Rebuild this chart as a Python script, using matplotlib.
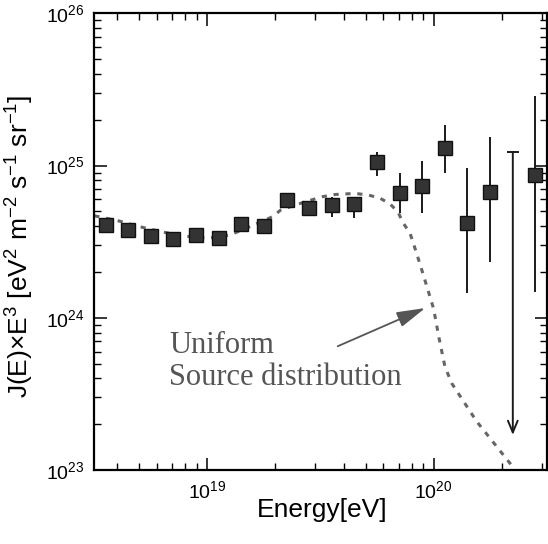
# -*- coding: utf8
'''
Energy spectrum J(E) x E^3 with the expected curve for a uniform
source distribution (dashed line).
'''
from matplotlib import pyplot as plt
from matplotlib.ticker import LogLocator, NullFormatter

import numpy as np

# measured points: energy [eV], flux x E^3 in units of 1e24 eV^2 m^-2 s^-1 sr^-1
energy = [3.55e18, 4.47e18, 5.62e18, 7.08e18, 8.91e18, 1.12e19, 1.41e19,
          1.78e19, 2.24e19, 2.82e19, 3.55e19, 4.47e19, 5.62e19, 7.08e19,
          8.91e19, 1.12e20, 1.41e20, 1.78e20, 2.82e20]
flux = [4.07, 3.80, 3.47, 3.31, 3.51, 3.35, 4.14, 3.98, 5.92, 5.25, 5.52,
        5.62, 10.6, 6.61, 7.35, 13.0, 4.20, 6.70, 8.61]
flux_hi = [4.07, 3.80, 3.47, 3.31, 3.51, 3.35, 4.14, 3.98, 5.92, 5.75, 6.24,
           6.24, 12.3, 8.97, 10.7, 18.5, 9.59, 15.3, 28.6]
flux_lo = [4.07, 3.80, 3.47, 3.31, 3.51, 3.35, 4.14, 3.98, 5.92, 4.79, 4.61,
           4.50, 8.53, 4.90, 4.85, 8.89, 1.46, 2.33, 1.48]

# upper limit
ul_energy = 2.24e20
ul_top = 12.3
ul_bottom = 0.17

# uniform source distribution curve (log10 E, log10 flux)
curve_loge = [18.50, 18.606, 18.702, 18.797, 18.899, 19.00, 19.097, 19.17,
              19.288, 19.324, 19.42, 19.507, 19.566, 19.654, 19.713, 19.764,
              19.808, 19.842, 19.867, 19.896, 19.925, 19.955, 19.984, 20.00,
              20.025, 20.05, 20.08, 20.19, 20.34, 20.37]
curve_logj = [24.67, 24.637, 24.598, 24.565, 24.537, 24.522, 24.543, 24.587,
              24.664, 24.708, 24.756, 24.795, 24.81, 24.817, 24.806, 24.785,
              24.747, 24.696, 24.62, 24.555, 24.423, 24.28, 24.138, 24.06,
              23.86, 23.68, 23.57, 23.32, 23.04, 22.98]


def main():
    plt.rcParams['font.family'] = ['Liberation Sans', 'DejaVu Sans']
    plt.rcParams['mathtext.fontset'] = 'custom'
    plt.rcParams['mathtext.rm'] = 'Liberation Sans'
    plt.rcParams['mathtext.it'] = 'Liberation Sans:italic'

    fig = plt.figure(figsize=(5.48, 5.44), dpi=100)
    ax = fig.add_axes([0.1721, 0.1360, 0.8255, 0.8395])
    ax.set_xscale('log')
    ax.set_yscale('log')

    scale = 1e24
    y = np.array(flux) * scale
    yerr = [y - np.array(flux_lo) * scale, np.array(flux_hi) * scale - y]

    ax.plot(10 ** np.array(curve_loge), 10 ** np.array(curve_logj),
            color='#666666', lw=2.2, linestyle=(0, (1.7, 2.2)), zorder=2)

    ax.errorbar(energy, y, yerr=yerr, fmt='s', ms=9.8, mfc='#333333',
                mec='#111111', mew=1.0, ecolor='#1a1a1a', elinewidth=1.4,
                capsize=0, zorder=3)

    # upper limit with arrow
    ax.plot([ul_energy], [ul_top * scale], marker='_', ms=9, mew=1.4,
            color='#1a1a1a', zorder=3)
    ax.annotate('', xy=(ul_energy, ul_bottom * scale),
                xytext=(ul_energy, ul_top * scale),
                arrowprops=dict(arrowstyle='->,head_length=0.6,head_width=0.25',
                                lw=1.4, color='#1a1a1a', shrinkA=0, shrinkB=0,
                                mutation_scale=14))

    # label for the curve
    ax.annotate('', xy=(10 ** 19.963, 10 ** 24.064),
                xytext=(10 ** 19.576, 10 ** 23.813),
                arrowprops=dict(arrowstyle='-|>,head_length=1.1,head_width=0.3',
                                lw=1.3, color='#555555', shrinkA=0, shrinkB=0,
                                mutation_scale=16))
    ax.text(10 ** 18.83, 10 ** 23.767, 'Uniform', family='Liberation Serif',
            fontsize=22, color='#555555', ha='left', va='baseline')
    ax.text(10 ** 18.83, 10 ** 23.56, 'Source distribution',
            family='Liberation Serif', fontsize=22, color='#555555',
            ha='left', va='baseline')

    ax.set_xlim(10 ** 18.5, 10 ** 20.5)
    ax.set_ylim(1e23, 1e26)

    ax.yaxis.set_major_locator(LogLocator(base=10, numticks=10))
    ax.yaxis.set_minor_locator(LogLocator(base=10, subs=np.arange(2, 10), numticks=10))
    ax.xaxis.set_minor_formatter(NullFormatter())
    ax.yaxis.set_minor_formatter(NullFormatter())

    ax.tick_params(which='both', direction='in', top=True, right=True,
                   labelsize=14, pad=7)
    ax.tick_params(which='major', length=9, width=1.1)
    ax.tick_params(which='minor', length=5, width=1.0)
    for sp in ax.spines.values():
        sp.set_linewidth(1.6)

    ax.set_xlabel('Energy[eV]', fontsize=19)
    ax.set_ylabel(r'J(E)×E$^3$ [eV$^2$ m$^{-2}$ s$^{-1}$ sr$^{-1}$]', fontsize=19)
    ax.xaxis.set_label_coords(0.503, -0.062)
    ax.yaxis.set_label_coords(-0.13, 0.49)

    fig.savefig('out.png', dpi=100)


if __name__ == '__main__':
    main()
